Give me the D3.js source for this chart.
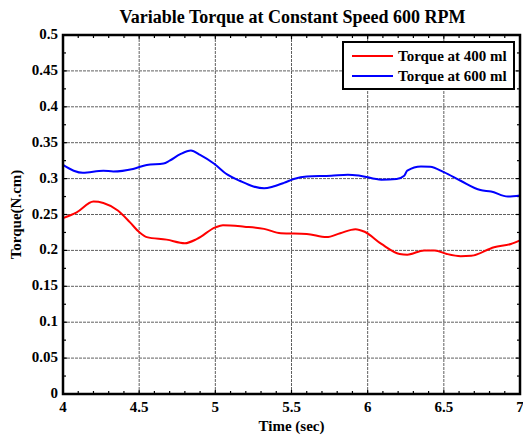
<!DOCTYPE html>
<html>
<head>
<meta charset="utf-8">
<script src="https://cdn.jsdelivr.net/npm/d3@7"></script>
<style>
  body { margin: 0; background: #fff; }
  text { font-family: "Liberation Serif", "Times New Roman", serif; font-weight: bold; }
</style>
</head>
<body>
<div id="graph"></div>
<script>
// data
const timeRed = [4, 4.09, 4.2, 4.265, 4.36, 4.44, 4.5, 4.55, 4.68, 4.8, 4.88, 5.0, 5.05, 5.19, 5.32, 5.43, 5.6, 5.73, 5.82, 5.92, 5.98, 6.09, 6.21, 6.26, 6.37, 6.44, 6.52, 6.61, 6.68, 6.83, 6.94, 7.0]
const torque400 = [0.245, 0.253, 0.268, 0.266, 0.2555, 0.239, 0.2255, 0.2185, 0.215, 0.21, 0.216, 0.232, 0.235, 0.233, 0.23, 0.224, 0.223, 0.2185, 0.224, 0.2296, 0.226, 0.209, 0.195, 0.194, 0.2, 0.2, 0.195, 0.192, 0.1925, 0.2045, 0.209, 0.214]

const timeBlue = [4, 4.07, 4.13, 4.265, 4.33, 4.46, 4.55, 4.66, 4.7, 4.77, 4.84, 4.9, 4.99, 5.08, 5.16, 5.25, 5.32, 5.38, 5.45, 5.515, 5.6, 5.76, 5.87, 5.95, 6.09, 6.19, 6.24, 6.26, 6.35, 6.41, 6.5, 6.61, 6.74, 6.81, 6.92, 7.0]
const torque600 = [0.319, 0.311, 0.308, 0.311, 0.31, 0.3135, 0.319, 0.321, 0.325, 0.334, 0.339, 0.333, 0.321, 0.3055, 0.297, 0.289, 0.2865, 0.289, 0.294, 0.2995, 0.303, 0.304, 0.3055, 0.304, 0.2985, 0.2995, 0.304, 0.311, 0.317, 0.3166, 0.309, 0.297, 0.284, 0.282, 0.275, 0.2765]

const xTicks = [4, 4.5, 5, 5.5, 6, 6.5, 7]
const yTicks = [0, 0.05, 0.1, 0.15, 0.2, 0.25, 0.3, 0.35, 0.4, 0.45, 0.5]
const legendLabels = ["Torque at 400 ml", "Torque at 600 ml"]
const colors = ["#ff0000", "#0000ff"]

let W = 523, H = 435
let margin = { top: 35, right: 3, bottom: 41, left: 63 },
    width = W - margin.left - margin.right,
    height = H - margin.top - margin.bottom

let svg = d3.select("#graph")
    .append("svg")
    .attr("width", W)
    .attr("height", H)

let g = svg.append("g")
    .attr("transform", "translate(" + margin.left + "," + margin.top + ")")

let x = d3.scaleLinear().domain([4, 7]).range([0, width])
let y = d3.scaleLinear().domain([0, 0.5]).range([height, 0])

// grid
g.append("g").selectAll("line")
    .data(xTicks.slice(1, -1))
    .join("line")
    .attr("x1", d => x(d)).attr("x2", d => x(d))
    .attr("y1", 0).attr("y2", height)
    .attr("stroke", "#606060").attr("stroke-width", 1)
    .attr("stroke-dasharray", "3,1")
g.append("g").selectAll("line")
    .data(yTicks.slice(1, -1))
    .join("line")
    .attr("y1", d => y(d)).attr("y2", d => y(d))
    .attr("x1", 0).attr("x2", width)
    .attr("stroke", "#606060").attr("stroke-width", 1)
    .attr("stroke-dasharray", "3,1")

// minor / major inward ticks on all sides
let xMinor = d3.range(0, 31).map(i => 4 + i * 0.1)
let yMinor = d3.range(0, 21).map(i => i * 0.025)
let tk = g.append("g").attr("stroke", "#000").attr("stroke-width", 1.2)
xMinor.forEach((v, i) => {
    let len = i % 5 == 0 ? 4 : 3
    tk.append("line").attr("x1", x(v)).attr("x2", x(v)).attr("y1", height).attr("y2", height - len)
    tk.append("line").attr("x1", x(v)).attr("x2", x(v)).attr("y1", 0).attr("y2", len)
})
yMinor.forEach((v, i) => {
    let len = i % 2 == 0 ? 4 : 3
    tk.append("line").attr("y1", y(v)).attr("y2", y(v)).attr("x1", 0).attr("x2", len)
    tk.append("line").attr("y1", y(v)).attr("y2", y(v)).attr("x1", width).attr("x2", width - len)
})

// lines
let line = d3.line().x(d => x(d[0])).y(d => y(d[1])).curve(d3.curveMonotoneX)
let series = [
    d3.zip(timeRed, torque400),
    d3.zip(timeBlue, torque600)
]
series.forEach((s, i) => {
    g.append("path")
        .datum(s)
        .attr("fill", "none")
        .attr("stroke", colors[i])
        .attr("stroke-width", 2)
        .attr("d", line)
})

// box
g.append("rect")
    .attr("width", width).attr("height", height)
    .attr("fill", "none").attr("stroke", "#000").attr("stroke-width", 2.5)

// tick labels
g.append("g").selectAll("text")
    .data(xTicks)
    .join("text")
    .attr("x", d => x(d)).attr("y", height + 18)
    .attr("text-anchor", "middle")
    .attr("font-size", 15)
    .text(d => d)
g.append("g").selectAll("text")
    .data(yTicks)
    .join("text")
    .attr("x", -5).attr("y", d => y(d) + 4)
    .attr("text-anchor", "end")
    .attr("font-size", 15)
    .text(d => d)

// titles
svg.append("text")
    .attr("x", margin.left + width / 2 + 1).attr("y", 23)
    .attr("text-anchor", "middle")
    .attr("font-size", 18)
    .text("Variable Torque at Constant Speed 600 RPM")
svg.append("text")
    .attr("x", margin.left + width / 2).attr("y", 431)
    .attr("text-anchor", "middle")
    .attr("font-size", 15)
    .text("Time (sec)")
svg.append("text")
    .attr("transform", "translate(21," + (margin.top + height / 2) + ") rotate(-90)")
    .attr("text-anchor", "middle")
    .attr("font-size", 15)
    .text("Torque(N.cm)")

// legend
let lg = svg.append("g").attr("transform", "translate(343,42)")
lg.append("rect").attr("width", 171).attr("height", 47)
    .attr("fill", "#fff").attr("stroke", "#000").attr("stroke-width", 2)
legendLabels.forEach((t, i) => {
    lg.append("line").attr("x1", 9).attr("x2", 50)
        .attr("y1", 14 + i * 20).attr("y2", 14 + i * 20)
        .attr("stroke", colors[i]).attr("stroke-width", 2)
    lg.append("text").attr("x", 55).attr("y", 19 + i * 20)
        .attr("font-size", 15).text(t)
})
</script>
</body>
</html>
